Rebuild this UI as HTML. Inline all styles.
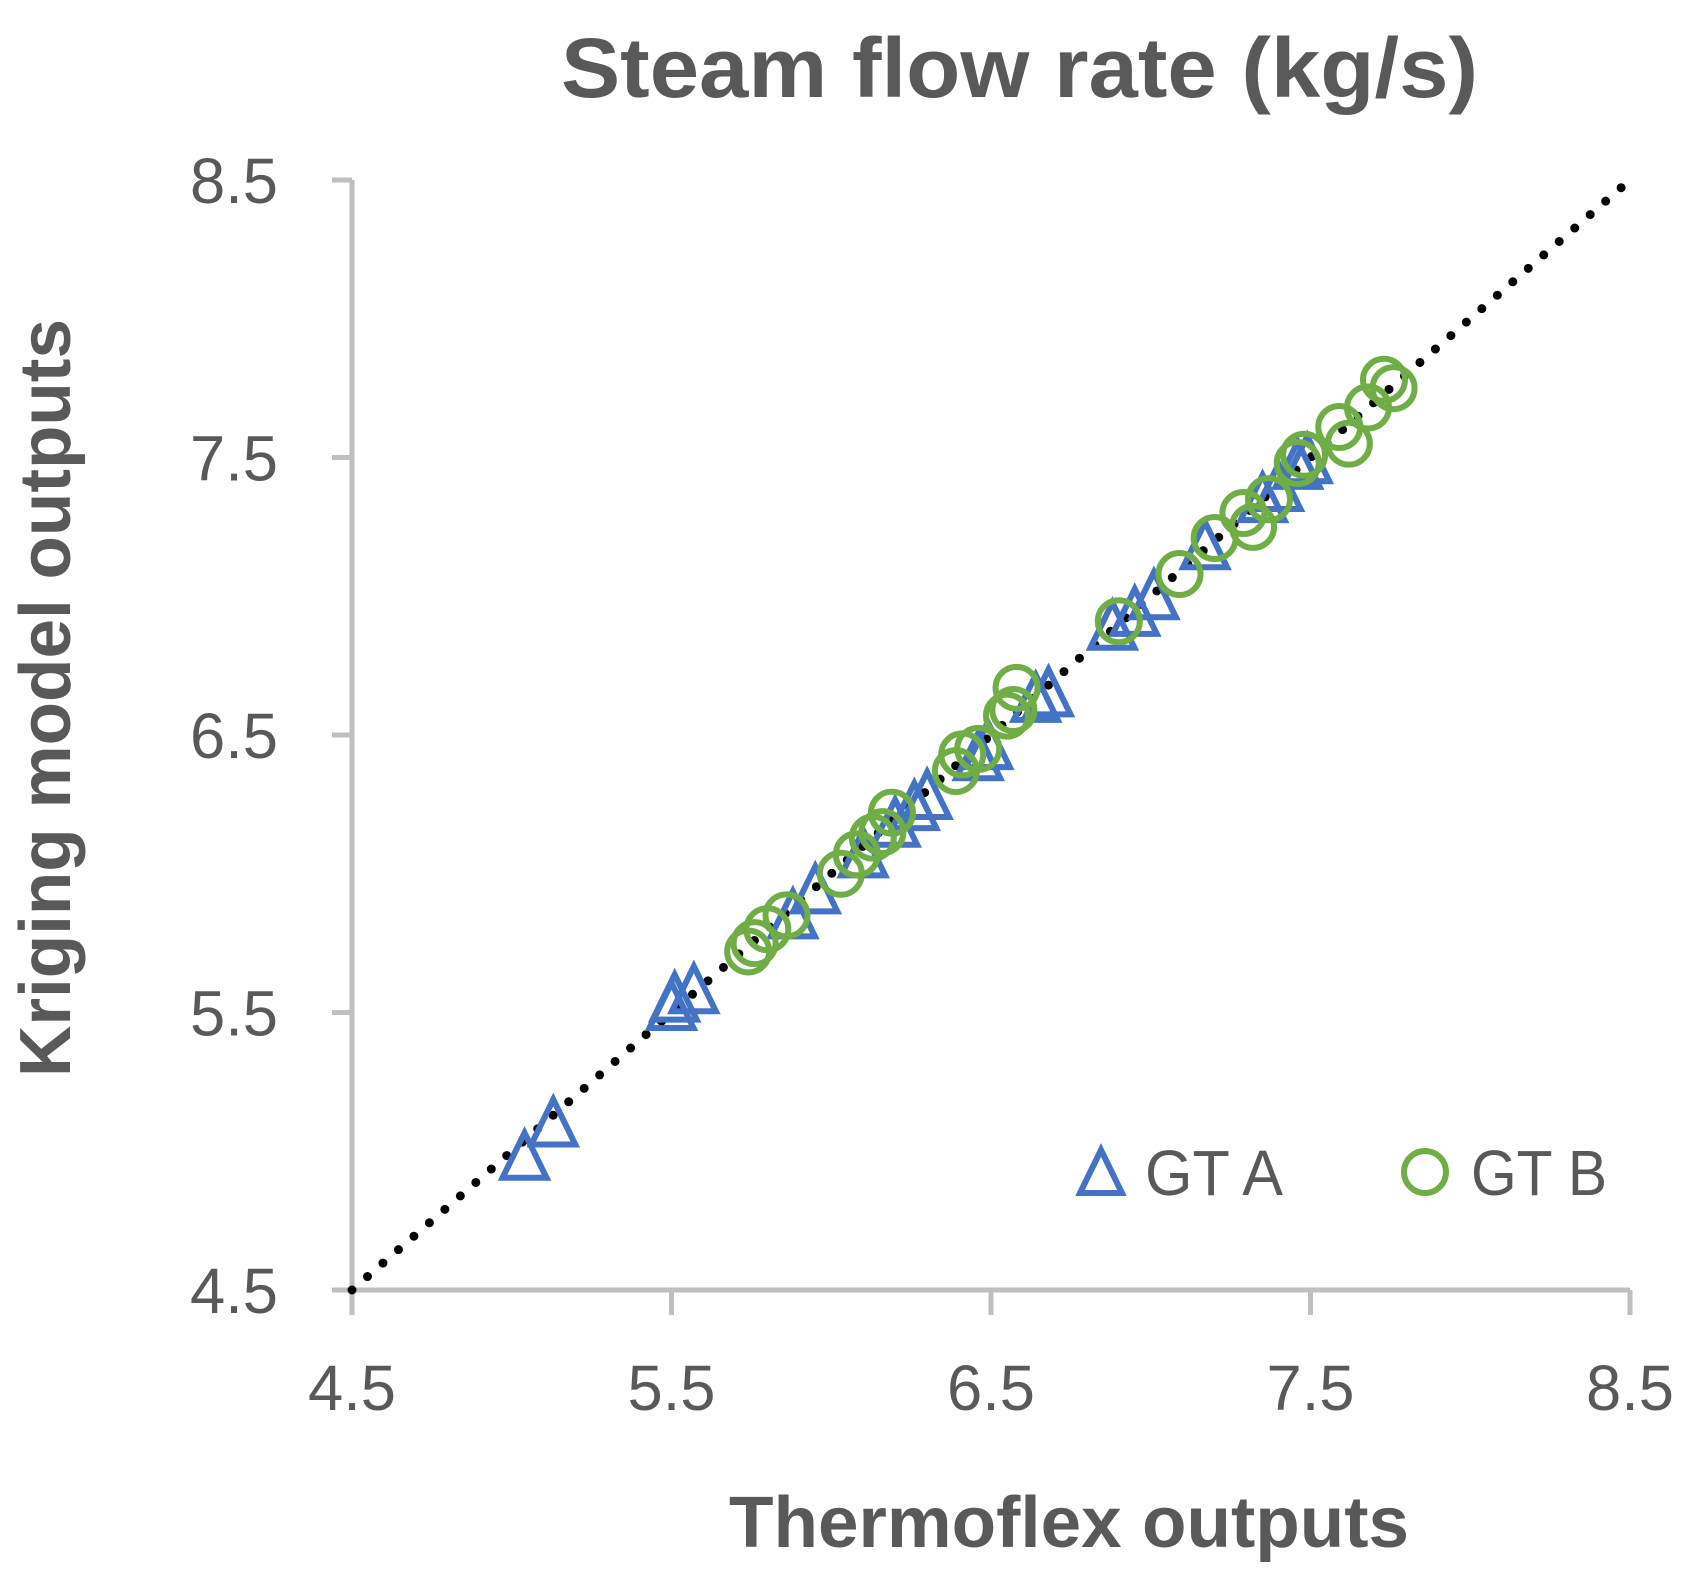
<!DOCTYPE html>
<html><head><meta charset="utf-8"><style>
html,body{margin:0;padding:0;background:#fff;}
svg{display:block;font-family:"Liberation Sans",sans-serif;}
</style></head><body>
<svg id="chart" width="1693" height="1585" viewBox="0 0 1693 1585">
<text x="561" y="97" font-size="84" font-weight="bold" fill="#595959" textLength="917" lengthAdjust="spacingAndGlyphs">Steam flow rate (kg/s)</text>
<text transform="translate(70,1077) rotate(-90)" font-size="72" font-weight="bold" fill="#595959" textLength="758" lengthAdjust="spacingAndGlyphs">Kriging model outputs</text>
<text x="729" y="1547" font-size="72" font-weight="bold" fill="#595959" textLength="680" lengthAdjust="spacingAndGlyphs">Thermoflex outputs</text>
<g id="axes"></g>
<g id="trend"></g>
<g id="marks"></g>
<g>
  <polygon points="1101,1150 1080,1193 1122,1193" fill="none" stroke="#4472C4" stroke-width="6"/>
  <text x="1145" y="1195" font-size="64" fill="#595959" textLength="138" lengthAdjust="spacingAndGlyphs">GT A</text>
  <circle cx="1425" cy="1172" r="21" fill="none" stroke="#70AD47" stroke-width="6"/>
  <text x="1471" y="1195" font-size="64" fill="#595959" textLength="136" lengthAdjust="spacingAndGlyphs">GT B</text>
</g>
</svg>
<script>
const xTicks = [4.5, 5.5, 6.5, 7.5, 8.5];
const yTicks = [4.5, 5.5, 6.5, 7.5, 8.5];
const tickLabels = ["4.5", "5.5", "6.5", "7.5", "8.5"];
const gtAx = [5.04,5.13,5.50,5.51,5.57,5.88,5.95,6.10,6.20,6.26,6.30,6.46,6.49,6.64,6.68,6.88,6.95,7.01,7.17,7.35,7.40,7.46,7.49];
const gtAy = [4.98,5.10,5.52,5.55,5.58,5.85,5.94,6.07,6.18,6.24,6.28,6.42,6.46,6.63,6.65,6.89,6.94,7.00,7.18,7.35,7.39,7.47,7.49];
const gtBx = [5.74,5.76,5.80,5.86,6.03,6.08,6.13,6.16,6.19,6.39,6.41,6.46,6.55,6.57,6.58,6.90,7.09,7.20,7.29,7.32,7.37,7.46,7.48,7.59,7.62,7.68,7.73,7.76];
const gtBy = [5.72,5.75,5.80,5.85,6.00,6.07,6.13,6.15,6.22,6.37,6.43,6.45,6.57,6.59,6.67,6.91,7.08,7.21,7.30,7.25,7.35,7.48,7.51,7.61,7.55,7.68,7.78,7.75];
const trendStart = 4.5, trendEnd = 8.48;

const NS = "http://www.w3.org/2000/svg";
const X0 = 352, X1 = 1630, Y0 = 1290, Y1 = 180;
function sx(v){ return X0 + (v - 4.5) / 4 * (X1 - X0); }
function sy(v){ return Y0 - (v - 4.5) / 4 * (Y0 - Y1); }
function mk(tag, attrs, parent){
  const e = document.createElementNS(NS, tag);
  for (const k in attrs) e.setAttribute(k, attrs[k]);
  parent.appendChild(e); return e;
}
const axes = document.getElementById('axes');
let el = mk('line', {x1:X0, y1:Y1, x2:X0, y2:Y0, stroke:'#BFBFBF', 'stroke-width':5}, axes);


el = mk('line', {x1:X0-20, y1:Y0, x2:X1, y2:Y0, stroke:'#BFBFBF', 'stroke-width':5}, axes);


yTicks.forEach((v, i) => {
  const t = mk('line', {x1:X0-20, y1:sy(v), x2:X0, y2:sy(v), stroke:'#BFBFBF', 'stroke-width':5}, axes);
  
  
  const l = mk('text', {x:278, y:sy(v)+23, 'text-anchor':'end', 'font-size':64, fill:'#595959', textLength:88, lengthAdjust:'spacingAndGlyphs'}, axes);
  l.textContent = tickLabels[i];
  
  
});
xTicks.forEach((v, i) => {
  const t = mk('line', {x1:sx(v), y1:Y0, x2:sx(v), y2:Y0+25, stroke:'#BFBFBF', 'stroke-width':5}, axes);
  
  
  const l = mk('text', {x:sx(v), y:1410, 'text-anchor':'middle', 'font-size':64, fill:'#595959', textLength:88, lengthAdjust:'spacingAndGlyphs'}, axes);
  l.textContent = tickLabels[i];
  
  
});
const trend = document.getElementById('trend');
el = mk('line', {x1:sx(trendStart), y1:sy(trendStart), x2:sx(trendEnd), y2:sy(trendEnd), stroke:'#000', 'stroke-width':9, 'stroke-linecap':'round', 'stroke-dasharray':'0 20.5'}, trend);


const marks = document.getElementById('marks');
gtAx.forEach((xv, i) => {
  const cx = sx(xv), cy = sy(gtAy[i]);
  const p = mk('polygon', {points:`${cx},${cy-24} ${cx-22},${cy+21} ${cx+22},${cy+21}`, fill:'none', stroke:'#4472C4', 'stroke-width':6}, marks);
  
  
});
gtBx.forEach((xv, i) => {
  const c = mk('circle', {cx:sx(xv), cy:sy(gtBy[i]), r:21, fill:'none', stroke:'#70AD47', 'stroke-width':6}, marks);
  
  
});
</script>
</body></html>
